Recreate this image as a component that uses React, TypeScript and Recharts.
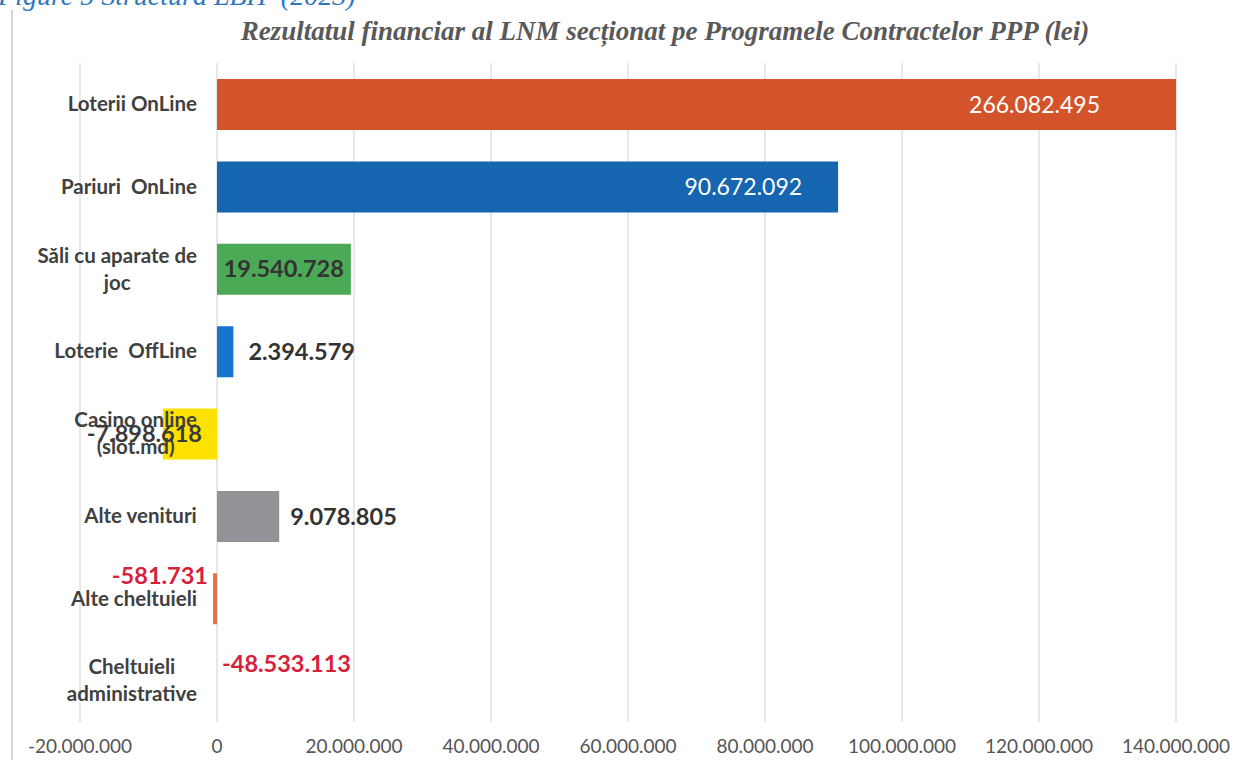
import { Bar, BarChart, CartesianGrid, Cell, LabelList, XAxis, YAxis } from "recharts";

// values (lei)
const CATEGORIES = [
  "Loterii OnLine",
  "Pariuri  OnLine",
  "Săli cu aparate de joc",
  "Loterie  OffLine",
  "Casino online (slot.md)",
  "Alte venituri",
  "Alte cheltuieli",
  "Cheltuieli administrative",
];
const VALUES = [266082495, 90672092, 19540728, 2394579, -7898618, 9078805, -581731, -48533113];
const X_TICKS = [-20000000, 0, 20000000, 40000000, 60000000, 80000000, 100000000, 120000000, 140000000];

const TITLE = "Rezultatul financiar al LNM secționat pe Programele Contractelor PPP (lei)";
const CAPTION = "Figure 5 Structura LBH  (2023)";

const BAR_COLORS = ["#D3542A", "#1565B0", "#4BAA55", "#1676CF", "#FFE100", "#939397", "#E4714A", "transparent"];
const LABEL_COLORS = ["#ffffff", "#ffffff", "#333333", "#333333", "#3a3a3a", "#333333", "#D6213A", "#D6213A"];

// where each value label sits relative to its bar
const LABEL_PLACE = [
  { ref: "right", anchor: "end", dx: -76, dy: 0 },
  { ref: "right", anchor: "end", dx: -36, dy: 0 },
  { ref: "right", anchor: "end", dx: -7, dy: 0 },
  { ref: "right", anchor: "start", dx: 15, dy: 0 },
  { ref: "right", anchor: "end", dx: -15, dy: 0 },
  { ref: "right", anchor: "start", dx: 11, dy: 0 },
  { ref: "left", anchor: "end", dx: -5, dy: -23 },
  { ref: "right", anchor: "start", dx: 5, dy: -17 },
];

const W = 1240;
const H = 760;
const Y_AXIS_W = 80;
const MARGIN = { top: 63, right: 64, bottom: 8, left: 0 };
const X_MIN = -20000000;
const X_MAX = 140000000;
const PLOT_LEFT = MARGIN.left + Y_AXIS_W;
const PLOT_RIGHT = W - MARGIN.right;
const ZERO_X = PLOT_LEFT + ((PLOT_RIGHT - PLOT_LEFT) * (0 - X_MIN)) / (X_MAX - X_MIN);

const FONT = "Lato, 'Open Sans', sans-serif";
const CAT_FONT_SIZE = 20.5;

const data = CATEGORIES.map((name, i) => ({ name, value: VALUES[i] }));

function fmt(v: number) {
  const s = Math.abs(v).toString().replace(/\B(?=(\d{3})+(?!\d))/g, ".");
  return (v < 0 ? "-" : "") + s;
}

let ctx: CanvasRenderingContext2D | null = null;
function measure(text: string) {
  if (!ctx) ctx = document.createElement("canvas").getContext("2d");
  if (!ctx) return text.length * 10;
  ctx.font = `bold ${CAT_FONT_SIZE}px Lato`;
  return ctx.measureText(text).width;
}

function wrap(text: string, maxW: number) {
  if (measure(text) <= maxW) return [text];
  const words = text.split(" ");
  const lines: string[] = [];
  let cur = "";
  for (const w of words) {
    const next = cur ? cur + " " + w : w;
    if (cur && measure(next) > maxW) {
      lines.push(cur);
      cur = w;
    } else cur = next;
  }
  if (cur) lines.push(cur);
  return lines;
}

function CategoryTick(props: any) {
  const { y, payload } = props;
  const label = String(payload?.value ?? "");
  const lines = wrap(label, 172);
  const maxW = Math.max(...lines.map(measure));
  const cx = ZERO_X - 20 - maxW / 2;
  const lh = 27;
  const y0 = Number(y) - ((lines.length - 1) * lh) / 2;
  return (
    <text
      textAnchor="middle"
      fill="#404040"
      fontFamily={FONT}
      fontWeight={700}
      fontSize={CAT_FONT_SIZE}
      style={{ whiteSpace: "pre" }}
    >
      {lines.map((l, i) => (
        <tspan key={i} x={cx} y={y0 + i * lh} dy="0.35em">
          {l}
        </tspan>
      ))}
    </text>
  );
}

function ValueLabel(props: any) {
  const { x, y, width, height, value } = props;
  let idx = typeof props.index === "number" ? props.index : VALUES.indexOf(value);
  if (idx < 0) idx = VALUES.indexOf(value);
  const place = LABEL_PLACE[idx];
  if (!place) return null;
  const a = Number(x);
  const b = Number(x) + Number(width);
  const left = Math.max(Math.min(a, b), PLOT_LEFT);
  const right = Math.min(Math.max(a, b), PLOT_RIGHT);
  const base = place.ref === "right" ? right : left;
  const white = LABEL_COLORS[idx] === "#ffffff";
  return (
    <text
      x={base + place.dx}
      y={Number(y) + Number(height) / 2 + place.dy}
      dy="0.35em"
      textAnchor={place.anchor}
      fill={LABEL_COLORS[idx]}
      fontFamily={FONT}
      fontWeight={white ? 400 : 700}
      fontSize={white ? 23 : 23.5}
    >
      {fmt(value)}
    </text>
  );
}

export default function App() {
  return (
    <div
      style={{
        position: "absolute",
        left: 0,
        top: 0,
        width: W,
        height: H,
        background: "#ffffff",
        overflow: "hidden",
      }}
    >
      <BarChart width={W} height={H} data={data} layout="vertical" margin={MARGIN}>
        <CartesianGrid horizontal={false} stroke="#dcdcdc" strokeWidth={1.3} />
        <XAxis
          type="number"
          domain={[X_MIN, X_MAX]}
          ticks={X_TICKS}
          allowDataOverflow
          tickFormatter={fmt}
          axisLine={false}
          tickLine={false}
          tickMargin={12}
          height={30}
          tick={{ fontSize: 19, fill: "#555555", fontFamily: FONT }}
        />
        <YAxis
          type="category"
          dataKey="name"
          width={Y_AXIS_W}
          axisLine={false}
          tickLine={false}
          interval={0}
          tick={CategoryTick}
        />
        <Bar dataKey="value" barSize={51} isAnimationActive={false}>
          {data.map((d, i) => (
            <Cell key={d.name} fill={BAR_COLORS[i]} />
          ))}
          <LabelList dataKey="value" content={ValueLabel} />
        </Bar>
      </BarChart>
      <div
        style={{
          position: "absolute",
          left: 11,
          top: 10,
          width: 2,
          height: H,
          background: "#d4d4d4",
        }}
      />
      <div
        style={{
          position: "absolute",
          left: -2,
          top: -18,
          whiteSpace: "pre",
          fontFamily: "'Liberation Serif', serif",
          fontStyle: "italic",
          fontSize: 28,
          lineHeight: 1,
          color: "#2E78C0",
        }}
      >
        {CAPTION}
      </div>
      <div
        style={{
          position: "absolute",
          left: 200,
          top: 18,
          width: 930,
          textAlign: "center",
          whiteSpace: "nowrap",
          fontFamily: "'Liberation Serif', serif",
          fontStyle: "italic",
          fontWeight: 700,
          fontSize: 27,
          lineHeight: 1,
          color: "#595959",
        }}
      >
        {TITLE}
      </div>
    </div>
  );
}
